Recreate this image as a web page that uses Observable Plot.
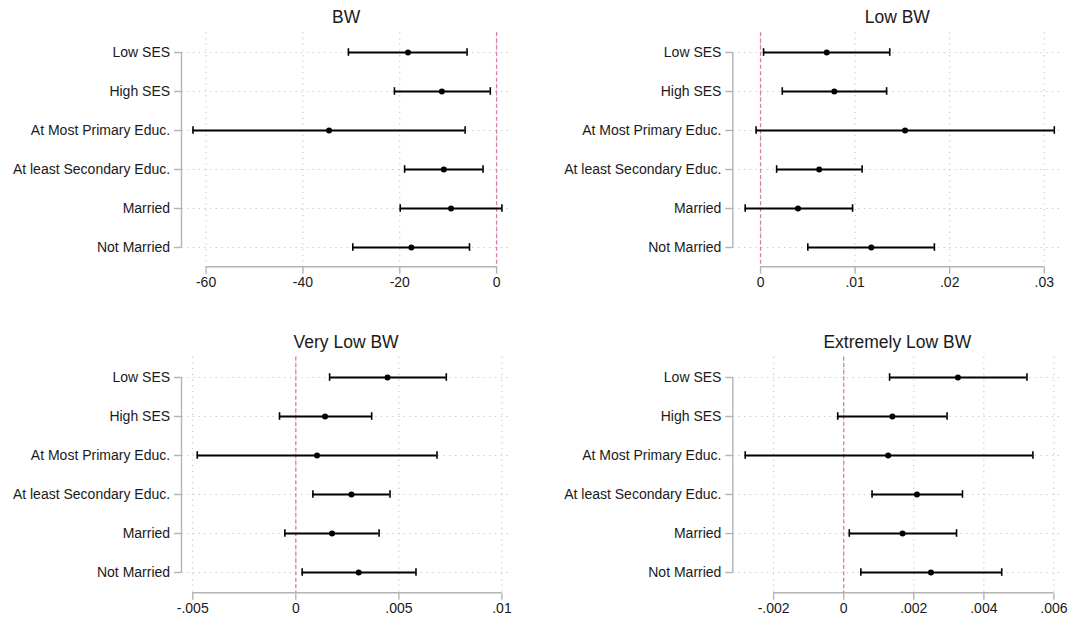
<!DOCTYPE html>
<html><head><meta charset="utf-8">
<script src="https://cdn.jsdelivr.net/npm/d3@7"></script>
<script src="https://cdn.jsdelivr.net/npm/@observablehq/plot@0.6"></script>
<style>
body{margin:0;background:#fff;}
#wrap{position:relative;width:1068px;height:619px;overflow:hidden;background:#fff;font-family:"Liberation Sans",Arial,sans-serif;}
.panel{position:absolute;}
.panel svg{display:block;}
</style></head><body><div id="wrap"></div>
<script>
// ---- data ----
const categories = ["Low SES","High SES","At Most Primary Educ.","At least Secondary Educ.","Married","Not Married"];
const panelTitles = ["BW","Low BW","Very Low BW","Extremely Low BW"];

const bwEst = [-18.3,-11.3,-34.6,-10.9,-9.4,-17.6];
const bwLo  = [-30.6,-21.1,-62.7,-19.0,-19.9,-29.7];
const bwHi  = [-6.1,-1.3,-6.5,-2.8,1.1,-5.6];

const lowEst = [0.0070,0.0078,0.01528,0.0062,0.00396,0.01171];
const lowLo  = [0.00032,0.0023,-0.00047,0.0017,-0.00162,0.0050];
const lowHi  = [0.01366,0.01333,0.03106,0.01074,0.00973,0.01838];

const vlowEst = [0.00445,0.00142,0.00103,0.00270,0.00176,0.00305];
const vlowLo  = [0.00164,-0.00079,-0.00478,0.00083,-0.00053,0.00031];
const vlowHi  = [0.00730,0.00368,0.00685,0.00457,0.00404,0.00583];

const elowEst = [0.00326,0.00139,0.00127,0.00209,0.00168,0.00249];
const elowLo  = [0.00131,-0.00017,-0.00281,0.00081,0.00016,0.00049];
const elowHi  = [0.00523,0.00295,0.00540,0.00339,0.00322,0.00451];

const bwTicks = [-60,-40,-20,0];
const bwTickLabels = ["-60","-40","-20","0"];
const lowTicks = [0,0.01,0.02,0.03];
const lowTickLabels = ["0",".01",".02",".03"];
const vlowTicks = [-0.005,0,0.005,0.01];
const vlowTickLabels = ["-.005","0",".005",".01"];
const elowTicks = [-0.002,0,0.002,0.004,0.006];
const elowTickLabels = ["-.002","0",".002",".004",".006"];

// ---- layout ----
const panels = [
  {title: panelTitles[0], est: bwEst, lo: bwLo, hi: bwHi, ticks: bwTicks, labels: bwTickLabels,
   domain: [-64.97, 2.81], left: 0, top: 0, height: 305, mt: 32.3, mb: 38.3, ml: 181.5, mr: 24.3, titleDy: -15.6},
  {title: panelTitles[1], est: lowEst, lo: lowLo, hi: lowHi, ticks: lowTicks, labels: lowTickLabels,
   domain: [-0.00288, 0.0318], left: 534, top: 0, height: 305, mt: 32.3, mb: 38.3, ml: 198.8, mr: 7.2, titleDy: -15.6},
  {title: panelTitles[2], est: vlowEst, lo: vlowLo, hi: vlowHi, ticks: vlowTicks, labels: vlowTickLabels,
   domain: [-0.00552, 0.0104], left: 0, top: 310, height: 309, mt: 46.7, mb: 26.3, ml: 181.5, mr: 24.3, titleDy: -15},
  {title: panelTitles[3], est: elowEst, lo: elowLo, hi: elowHi, ticks: elowTicks, labels: elowTickLabels,
   domain: [-0.00315, 0.00621], left: 534, top: 310, height: 309, mt: 46.7, mb: 26.3, ml: 198.8, mr: 7.2, titleDy: -15}
];

const FONT = '"Liberation Sans", Arial, Helvetica, sans-serif';
const AXIS = "#b4b4b4";
const GRID = "#c4c4c4";
const TEXT = "#1a1a1a";
const ZERO = "#d47fb0";

const wrap = document.getElementById("wrap");

for (const p of panels) {
  const rows = categories.map((c, i) => ({cat: c, est: p.est[i], lo: p.lo[i], hi: p.hi[i]}));
  const lab = new Map(p.ticks.map((t, i) => [t, p.labels[i]]));

  // Stata-style axis lines: from first to last tick / category
  const axisLines = (index, scales, values, dims) => {
    const g = d3.create("svg:g");
    const yb = dims.height - dims.marginBottom;
    const xl = dims.marginLeft;
    g.append("line")
      .attr("x1", scales.x(p.ticks[0])).attr("x2", scales.x(p.ticks[p.ticks.length - 1]))
      .attr("y1", yb).attr("y2", yb)
      .attr("stroke", AXIS).attr("stroke-width", 1.4);
    g.append("line")
      .attr("x1", xl).attr("x2", xl)
      .attr("y1", scales.y(categories[0])).attr("y2", scales.y(categories[categories.length - 1]))
      .attr("stroke", AXIS).attr("stroke-width", 1.4);
    return g.node();
  };

  const chart = Plot.plot({
    width: 534,
    height: p.height,
    marginTop: p.mt,
    marginBottom: p.mb,
    marginLeft: p.ml,
    marginRight: p.mr,
    x: {domain: p.domain},
    y: {type: "point", domain: categories, padding: 0.49},
    style: {fontFamily: FONT, fontSize: "14px", background: "transparent", color: TEXT},
    marks: [
      Plot.ruleX(p.ticks, {stroke: GRID, strokeDasharray: "1.2,4.5", strokeWidth: 1.1}),
      Plot.ruleY(categories, {stroke: GRID, strokeDasharray: "1.2,4.5", strokeWidth: 1.1}),
      Plot.ruleX([0], {stroke: ZERO, strokeWidth: 1.3, strokeDasharray: "4,2.5"}),
      Plot.ruleY(rows, {y: "cat", x1: "lo", x2: "hi", stroke: "#000", strokeWidth: 2}),
      Plot.ruleX(rows, {x: "lo", y1: "cat", y2: "cat", stroke: "#000", strokeWidth: 1.6, insetTop: -3.8, insetBottom: -3.8}),
      Plot.ruleX(rows, {x: "hi", y1: "cat", y2: "cat", stroke: "#000", strokeWidth: 1.6, insetTop: -3.8, insetBottom: -3.8}),
      Plot.dot(rows, {x: "est", y: "cat", r: 3, fill: "#000", stroke: "none"}),
      axisLines,
      Plot.axisY({tickSize: 7.5, tickPadding: 4.4, stroke: AXIS, strokeWidth: 1.4, fill: TEXT, fontSize: 14, label: null}),
      Plot.axisX({ticks: p.ticks, tickFormat: d => lab.get(d), tickSize: 7, tickPadding: 3, stroke: AXIS, strokeWidth: 1.4, fill: TEXT, fontSize: 14, label: null}),
      Plot.text([p.title], {text: d => d, frameAnchor: "top", dy: p.titleDy, lineAnchor: "middle", fontSize: 17.5, fill: TEXT})
    ]
  });

  const div = document.createElement("div");
  div.className = "panel";
  div.style.left = p.left + "px";
  div.style.top = p.top + "px";
  div.appendChild(chart);
  wrap.appendChild(div);
}
</script>
</body></html>
